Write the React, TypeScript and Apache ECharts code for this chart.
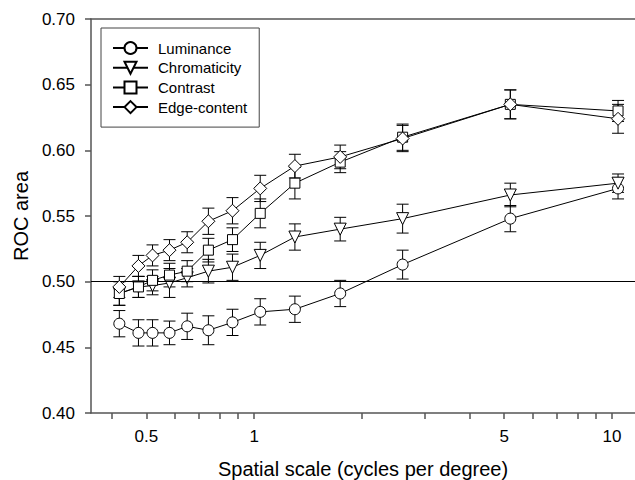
import React, { useEffect, useRef } from "react";
import * as echarts from "echarts";

// Spatial scale (cycles per degree)
const scales = [0.42, 0.475, 0.52, 0.58, 0.65, 0.745, 0.87, 1.04, 1.3, 1.74, 2.6, 5.2, 10.4];

const seriesNames = ["Luminance", "Chromaticity", "Contrast", "Edge-content"];

const luminance = [0.468, 0.461, 0.461, 0.461, 0.466, 0.463, 0.469, 0.477, 0.479, 0.491, 0.513, 0.548, 0.571];
const luminanceErr = [0.010, 0.010, 0.010, 0.009, 0.010, 0.011, 0.010, 0.010, 0.010, 0.010, 0.011, 0.010, 0.008];

const chromaticity = [0.491, 0.496, 0.497, 0.499, 0.503, 0.508, 0.511, 0.520, 0.534, 0.540, 0.548, 0.566, 0.575];
const chromaticityErr = [0.009, 0.008, 0.007, 0.011, 0.007, 0.009, 0.010, 0.010, 0.010, 0.009, 0.011, 0.009, 0.007];

const contrast = [0.491, 0.496, 0.501, 0.505, 0.508, 0.524, 0.532, 0.552, 0.575, 0.591, 0.610, 0.635, 0.630];
const contrastErr = [0.009, 0.008, 0.008, 0.009, 0.008, 0.009, 0.009, 0.011, 0.012, 0.008, 0.010, 0.011, 0.008];

const edgeContent = [0.496, 0.512, 0.520, 0.524, 0.530, 0.546, 0.554, 0.571, 0.588, 0.595, 0.609, 0.635, 0.624];
const edgeContentErr = [0.008, 0.008, 0.008, 0.008, 0.008, 0.010, 0.010, 0.010, 0.009, 0.009, 0.010, 0.011, 0.011];

const xTickValues = [0.4, 0.5, 0.6, 0.7, 0.8, 0.9, 1, 2, 3, 4, 5, 6, 7, 8, 9, 10];
const xLabelValues = [0.5, 1, 5, 10];
const xMin = 0.35;
const xMax = 11.6;
const yMin = 0.4;
const yMax = 0.7;
const yInterval = 0.05;
const chanceLevel = 0.5;

const FONT = "'Liberation Sans', Arial, Helvetica, sans-serif";

const markerDefs = [
  { symbol: "circle", size: 11, rotate: 0 },
  { symbol: "triangle", size: 12, rotate: 180 },
  { symbol: "rect", size: 10, rotate: 0 },
  { symbol: "diamond", size: 13, rotate: 0 },
];

export default function App() {
  const ref = useRef<HTMLDivElement>(null);

  useEffect(() => {
    if (!ref.current) return;
    const chart = echarts.init(ref.current, undefined, { renderer: "svg" });

    const values = [luminance, chromaticity, contrast, edgeContent];
    const errs = [luminanceErr, chromaticityErr, contrastErr, edgeContentErr];

    const errorSeries = values.map((vals, si) => ({
      type: "custom",
      name: seriesNames[si] + " error",
      z: 1,
      silent: true,
      encode: { x: 0, y: [1, 2] },
      data: vals.map((v, i) => [scales[i], v - errs[si][i], v + errs[si][i]]),
      renderItem: (params: any, api: any) => {
        const x = api.value(0);
        const top = api.coord([x, api.value(2)]);
        const bot = api.coord([x, api.value(1)]);
        const hw = 6;
        const style = { stroke: "#000", lineWidth: 1 };
        return {
          type: "group",
          children: [
            { type: "line", shape: { x1: top[0], y1: top[1], x2: bot[0], y2: bot[1] }, style },
            { type: "line", shape: { x1: top[0] - hw, y1: top[1], x2: top[0] + hw, y2: top[1] }, style },
            { type: "line", shape: { x1: bot[0] - hw, y1: bot[1], x2: bot[0] + hw, y2: bot[1] }, style },
          ],
        };
      },
    }));

    const lineSeries = values.map((vals, si) => ({
      type: "line",
      name: seriesNames[si],
      z: 3 + si,
      data: vals.map((v, i) => [scales[i], v]),
      symbol: markerDefs[si].symbol,
      symbolSize: markerDefs[si].size,
      symbolRotate: markerDefs[si].rotate,
      showAllSymbol: true,
      lineStyle: { color: "#000", width: 1 },
      itemStyle: { color: "#fff", borderColor: "#000", borderWidth: 1, opacity: 1 },
      emphasis: { disabled: true },
      markLine:
        si === 0
          ? {
              silent: true,
              symbol: ["none", "none"],
              label: { show: false },
              lineStyle: { color: "#000", width: 1, type: "solid" },
              data: [{ yAxis: chanceLevel }],
            }
          : undefined,
    }));

    chart.setOption({
      animation: false,
      textStyle: { fontFamily: FONT },
      grid: { left: 91, right: 0, top: 19, bottom: 67, outerBoundsMode: "none", containLabel: false },
      legend: {
        data: seriesNames,
        orient: "vertical",
        left: 101,
        top: 28,
        padding: [12.5, 12, 12.5, 11],
        itemWidth: 35,
        itemHeight: 15,
        itemGap: 4.7,
        borderColor: "#444",
        borderWidth: 1,
        backgroundColor: "#fff",
        selectedMode: false,
        textStyle: { fontSize: 15, color: "#000", fontFamily: FONT, padding: [0, 0, 0, 5] },
      },
      xAxis: [
        {
          type: "log",
          logBase: 10,
          min: xMin,
          max: xMax,
          name: "Spatial scale (cycles per degree)",
          nameLocation: "middle",
          nameGap: 46,
          nameTextStyle: { fontSize: 20, color: "#000", fontFamily: FONT },
          axisLine: { show: true, onZero: false, lineStyle: { color: "#555", width: 1.5 } },
          axisTick: { show: true, length: 6, customValues: xTickValues, lineStyle: { color: "#555", width: 1.5 } },
          axisLabel: {
            customValues: xLabelValues,
            fontSize: 17,
            color: "#000",
            fontFamily: FONT,
            margin: 15,
            formatter: (v: number) => String(v),
          },
          splitLine: { show: false },
          minorTick: { show: false },
        },
        {
          type: "log",
          logBase: 10,
          position: "top",
          min: xMin,
          max: xMax,
          axisLine: { show: true, onZero: false, lineStyle: { color: "#555", width: 1.5 } },
          axisTick: { show: false },
          axisLabel: { show: false },
          splitLine: { show: false },
        },
      ],
      yAxis: {
        type: "value",
        min: yMin,
        max: yMax,
        interval: yInterval,
        name: "ROC area",
        nameLocation: "middle",
        nameGap: 59,
        nameTextStyle: { fontSize: 20, color: "#000", fontFamily: FONT },
        axisLine: { show: true, lineStyle: { color: "#555", width: 1.5 } },
        axisTick: { show: true, length: 6, lineStyle: { color: "#555", width: 1.5 } },
        axisLabel: {
          fontSize: 17,
          color: "#000",
          fontFamily: FONT,
          margin: 16,
          formatter: (v: number) => v.toFixed(2),
        },
        splitLine: { show: false },
      },
      series: [...errorSeries, ...lineSeries],
    });

    return () => chart.dispose();
  }, []);

  return (
    <div
      ref={ref}
      style={{ position: "fixed", left: 0, top: 0, width: 635, height: 480, background: "#fff" }}
    />
  );
}
